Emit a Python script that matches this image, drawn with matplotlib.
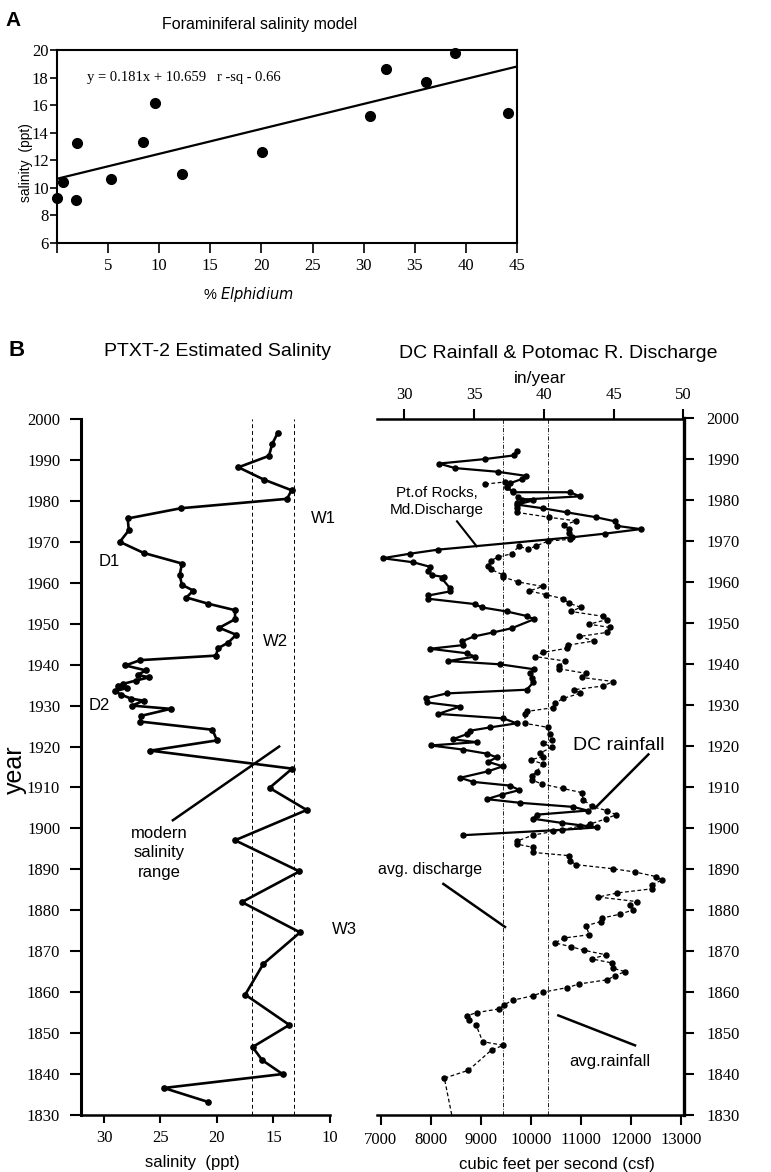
import matplotlib
matplotlib.use("Agg")
from matplotlib import pyplot as plt

SANS = ["Liberation Sans", "DejaVu Sans"]
SERIF = ["Liberation Serif", "DejaVu Serif"]
plt.rcParams["font.family"] = SANS

# ---- panel A : foraminiferal salinity model ----
elphidium = [0, 0.55, 1.96, 1.9, 5.3, 8.4, 9.6, 12.2, 20.05, 30.6, 32.2, 36.1, 38.9, 44.1]
salinity_a = [9.26, 10.39, 13.24, 9.14, 10.63, 13.31, 16.14, 10.97, 12.57, 15.22, 18.65, 17.68, 19.76, 15.41]
slope, intercept = 0.181, 10.659

# ---- panel B left : PTXT-2 estimated salinity ----
sal_year = [1996.7, 1994.0, 1991.0, 1988.2, 1985.2, 1982.6, 1980.5, 1978.2, 1975.7, 1972.8,
            1970.0, 1967.3, 1964.7, 1961.8, 1959.5, 1958.1, 1956.4, 1954.9, 1953.3, 1951.1,
            1949.0, 1947.3, 1945.4, 1944.0, 1942.2, 1941.1, 1939.8, 1938.6, 1937.5, 1936.9,
            1936.1, 1935.3, 1934.7, 1934.3, 1933.5, 1932.7, 1931.7, 1931.2, 1930.0, 1929.2,
            1927.5, 1926.1, 1924.1, 1921.5, 1919.0, 1914.6, 1909.9, 1904.5, 1897.1, 1889.5,
            1882.0, 1874.6, 1866.9, 1859.4, 1852.0, 1846.6, 1843.4, 1840.0, 1836.6, 1833.2]
sal_ppt = [14.6, 15.1, 15.4, 18.1, 15.85, 13.4, 13.8, 23.2, 27.9, 27.8,
           28.6, 26.5, 23.1, 23.3, 23.1, 22.1, 22.7, 20.8, 18.4, 18.4,
           19.8, 18.3, 19.0, 19.9, 20.1, 26.8, 28.1, 26.3, 27.0, 26.0,
           27.2, 28.3, 28.8, 28.0, 29.0, 28.5, 27.6, 26.5, 27.5, 24.1,
           26.7, 26.8, 20.4, 20.0, 25.9, 13.35, 15.35, 12.06, 18.4, 12.7,
           17.8, 12.65, 15.9, 17.5, 13.6, 16.85, 16.0, 14.2, 24.7, 20.8]
modern_range = [16.9, 13.2]

# ---- panel B right : Potomac discharge (csf) and DC rainfall (in/year) ----
dis_year = [1992.0, 1991.0, 1990.1, 1989.0, 1987.9, 1987.0, 1986.0, 1985.2, 1984.2, 1983.2,
            1982.0, 1982.0, 1981.0, 1980.2, 1980.0, 1979.0, 1978.1, 1977.1, 1975.9, 1974.9,
            1973.8, 1973.0, 1971.9, 1971.0, 1968.0, 1967.0, 1965.9, 1964.9, 1963.8, 1962.8,
            1961.8, 1961.3, 1961.0, 1958.6, 1957.8, 1956.8, 1956.0, 1954.7, 1953.9, 1952.9,
            1951.8, 1951.0, 1948.8, 1947.8, 1946.8, 1945.6, 1944.7, 1943.8, 1942.7, 1941.9,
            1940.8, 1940.0, 1938.8, 1937.8, 1936.6, 1935.6, 1933.8, 1932.9, 1931.7, 1930.7,
            1929.7, 1927.9, 1926.8, 1925.6, 1924.6, 1923.8, 1923.0, 1921.7, 1921.0, 1920.2,
            1919.2, 1918.2, 1917.3, 1916.2, 1915.1, 1913.9, 1912.3, 1911.3, 1910.4, 1909.3,
            1908.2, 1907.1, 1906.2, 1905.2, 1904.3, 1903.3, 1902.3, 1901.3, 1900.2, 1899.6,
            1898.3]
dis_csf = [9719, 9666, 9086, 8166, 8486, 9339, 9906, 9819, 9586, 9519,
           9653, 10786, 10986, 9819, 10053, 9719, 10239, 10719, 11306, 11686,
           11719, 12200, 11486, 10819, 8153, 7586, 7039, 7653, 7986, 7953,
           8019, 8266, 8219, 8386, 8386, 7953, 7953, 8886, 9019, 9519,
           9919, 10066, 9619, 9253, 8866, 8619, 8653, 7986, 8719, 8886,
           8353, 9386, 10066, 9986, 10019, 10053, 9919, 8319, 7906, 7919,
           8586, 8153, 9453, 9719, 9186, 8786, 8733, 8439, 8919, 8000,
           8640, 9120, 9320, 9150, 9440, 9150, 8586, 8853, 9586, 9773,
           9420, 9120, 9786, 10853, 11139, 10119, 10053, 10619, 11333, 10619,
           8653]
avg_discharge = 9440

rain_year = [1984.0, 1984.5, 1983.3, 1982.4, 1980.8, 1979.4, 1978.1, 1977.1, 1975.9, 1975.0,
             1974.0, 1973.0, 1972.0, 1970.5, 1970.1, 1968.9, 1968.1, 1968.8, 1967.0, 1966.2,
             1965.3, 1964.0, 1963.2, 1961.8, 1961.3, 1960.1, 1959.0, 1957.9, 1957.0, 1956.0,
             1954.9, 1953.9, 1952.9, 1951.7, 1950.9, 1949.8, 1949.0, 1947.8, 1946.8, 1945.7,
             1944.7, 1943.9, 1942.9, 1941.9, 1940.8, 1939.7, 1938.9, 1937.8, 1936.8, 1935.8,
             1934.7, 1933.8, 1932.9, 1931.7, 1930.5, 1929.4, 1928.5, 1927.9, 1925.6, 1924.6,
             1923.0, 1921.5, 1920.7, 1919.8, 1918.3, 1917.5, 1916.7, 1915.7, 1913.8, 1912.8,
             1911.8, 1910.8, 1909.7, 1908.7, 1907.0, 1905.3, 1904.3, 1903.3, 1902.3, 1901.0,
             1900.5, 1899.2, 1898.3, 1896.8, 1896.1, 1895.3, 1894.1, 1893.3, 1892.1, 1891.1,
             1890.1, 1889.3, 1888.2, 1887.3, 1886.2, 1885.2, 1884.2, 1883.2, 1882.1, 1881.2,
             1880.1, 1879.0, 1878.1, 1877.2, 1876.2, 1874.0, 1873.2, 1872.0, 1871.1, 1870.2,
             1869.1, 1868.1, 1867.1, 1865.8, 1865.0, 1864.0, 1863.0, 1862.0, 1861.1, 1860.0,
             1859.1, 1858.0, 1856.9, 1855.9, 1855.0, 1854.2, 1853.1, 1852.0, 1847.9, 1847.0,
             1845.9, 1840.9, 1839.0, 1830.0]
rain_in = [35.8, 37.2, 37.34, 37.77, 38.17, 38.05, 38.05, 38.05, 40.37, 42.31,
           41.45, 41.83, 41.83, 41.88, 40.32, 39.44, 38.89, 38.22, 37.7, 36.74,
           36.19, 36.02, 36.19, 37.1, 37.1, 38.17, 39.92, 38.96, 40.16, 41.4,
           41.83, 42.64, 41.95, 44.27, 44.51, 43.24, 44.74, 44.55, 42.55, 43.6,
           41.76, 41.64, 39.92, 39.37, 41.52, 41.11, 41.11, 43.02, 42.71, 44.98,
           44.22, 42.16, 42.59, 41.4, 40.8, 40.63, 38.77, 38.65, 38.65, 40.32,
           40.44, 40.56, 39.97, 40.56, 39.73, 39.97, 39.06, 39.92, 39.49, 39.13,
           39.13, 39.85, 41.35, 42.71, 42.83, 43.43, 44.51, 45.18, 44.46, 43.31,
           42.6, 40.64, 39.2, 38.05, 38.1, 39.25, 39.2, 41.83, 41.88, 42.31,
           44.98, 46.54, 48.04, 48.45, 47.73, 47.73, 45.27, 43.91, 46.66, 46.18,
           46.42, 45.46, 44.2, 44.08, 43.02, 43.26, 41.45, 40.8, 41.93, 42.88,
           44.46, 43.43, 44.91, 44.98, 45.82, 45.1, 44.55, 42.55, 41.69, 39.97,
           39.2, 37.77, 37.15, 36.81, 35.19, 34.47, 34.66, 35.14, 35.62, 37.1,
           36.26, 34.59, 32.87, 33.4]
avg_rainfall = 40.3

year_ticks = list(range(1830, 2001, 10))

W, H = 771, 1172
fig = plt.figure(figsize=(W / 100, H / 100), dpi=100)


def box(l, t, r, b):
    # pixel box -> figure fraction
    return [l / W, 1 - b / H, (r - l) / W, (b - t) / H]


def ftext(x, y, s, **kw):
    fig.text(x / W, 1 - y / H, s, **kw)


def serif_ticks(ax, size):
    for lab in ax.get_xticklabels() + ax.get_yticklabels():
        lab.set_fontfamily(SERIF)
        lab.set_fontsize(size)


###########
# PANEL A #
###########
axA = fig.add_axes(box(57, 50, 517, 243))
axA.plot(elphidium, salinity_a, "o", color="black", ms=7, clip_on=False, zorder=3)
axA.axline((0, intercept), slope=slope, color="black", lw=1.6)
axA.set_xlim(0, 45)
axA.set_ylim(6, 20)
axA.set_xticks(range(0, 46, 5))
axA.set_xticklabels([""] + [str(v) for v in range(5, 46, 5)])
axA.set_yticks(range(6, 21, 2))
axA.tick_params(axis="y", direction="out", length=5, width=1.2, pad=1)
axA.tick_params(axis="x", direction="out", length=7, width=1.2, pad=4)
serif_ticks(axA, 12)
for sp in axA.spines.values():
    sp.set_linewidth(1.5)
axA.text(2.9, 18.0, "y = 0.181x + 10.659   r -sq - 0.66", family=SERIF, size=10.5,
         va="center", ha="left")

ftext(13, 20, "A", size=15, weight="bold", ha="center", va="center")
ftext(260, 25, "Foraminiferal salinity model", size=11.5, ha="center", va="center")
ftext(26, 163, "salinity  (ppt)", size=10, rotation=90, ha="center", va="center")
fig.text(248 / W, 1 - 294 / H, "% $\\it{Elphidium}$", size=10.5, ha="center", va="center")

##################
# PANEL B - LEFT #
##################
axL = fig.add_axes(box(81, 419, 330, 1115))
axL.plot(sal_ppt, sal_year, "-o", color="black", lw=1.9, ms=3.8, zorder=3)
for v in modern_range:
    axL.axvline(v, color="black", lw=0.7, ls=(0, (4, 3)))
axL.set_xlim(32.03, 10)
axL.set_ylim(1830, 2000)
axL.set_xticks([30, 25, 20, 15, 10])
axL.set_yticks(year_ticks)
axL.spines["top"].set_visible(False)
axL.spines["right"].set_visible(False)
axL.spines["left"].set_linewidth(2.2)
axL.spines["bottom"].set_linewidth(1.8)
axL.tick_params(axis="y", direction="out", length=8, width=1.5, pad=7)
axL.tick_params(axis="x", direction="out", length=6, width=1.5, pad=5)
serif_ticks(axL, 12)

axL.text(10.6, 1975.8, "W1", size=12, ha="center", va="center")
axL.text(29.5, 1965.2, "D1", size=12, ha="center", va="center")
axL.text(14.8, 1945.7, "W2", size=12, ha="center", va="center")
axL.text(30.4, 1930.0, "D2", size=12, ha="center", va="center")
axL.text(8.7, 1875.3, "W3", size=12, ha="center", va="center")
axL.text(25.1, 1894.0, "modern\nsalinity\nrange", size=12, ha="center", va="center",
         linespacing=1.35)
axL.plot([23.9, 14.5], [1902, 1920], color="black", lw=1.8)

ftext(17, 350, "B", size=16, weight="bold", ha="center", va="center")
ftext(218, 352, "PTXT-2 Estimated Salinity", size=14, ha="center", va="center")
ftext(15, 770, "year", size=18, rotation=90, ha="center", va="center")
ftext(192, 1163, "salinity  (ppt)", size=12, ha="center", va="center")

###################
# PANEL B - RIGHT #
###################
axR = fig.add_axes(box(377, 418.5, 684, 1115))
axR.plot(dis_csf, dis_year, "-o", color="black", lw=1.6, ms=3.6, zorder=3)
axR.axvline(avg_discharge, color="black", lw=0.6, ls=(0, (5, 2, 1, 2)))
axR.set_xlim(6926, 13066)
axR.set_ylim(1830, 2000)
axR.set_xticks(range(7000, 13001, 1000))
axR.set_yticks(year_ticks)
axR.yaxis.tick_right()
axR.spines["left"].set_visible(False)
axR.spines["top"].set_visible(False)
axR.spines["right"].set_linewidth(2.4)
axR.spines["bottom"].set_linewidth(1.8)
axR.tick_params(axis="y", direction="out", length=7, width=1.5, pad=9)
axR.tick_params(axis="x", direction="out", length=7, width=1.5, pad=5)
serif_ticks(axR, 12)

axT = axR.twiny()
axT.plot(rain_in, rain_year, "--o", color="black", lw=0.9, ms=3.6,
         markevery=slice(0, len(rain_in) - 1), dashes=(3, 2))
axT.axvline(avg_rainfall, color="black", lw=0.6, ls=(0, (5, 2, 1, 2)))
axT.set_xlim(28.04, 50.05)
axT.set_xticks(range(30, 51, 5))
for s in ("left", "right", "bottom"):
    axT.spines[s].set_visible(False)
axT.spines["top"].set_linewidth(1.8)
axT.tick_params(axis="x", direction="out", length=7, width=1.5, pad=4)
serif_ticks(axT, 12)

axR.text(8126, 1979.7, "Pt.of Rocks,\nMd.Discharge", size=11, ha="center", va="center",
         linespacing=1.3)
axR.plot([8526, 8920], [1974.9, 1968.8], color="black", lw=1.5)
axR.text(11753, 1920.3, "DC rainfall", size=14, ha="center", va="center")
axR.plot([12353, 11286], [1918.0, 1904.9], color="black", lw=1.8)
axR.text(7986, 1889.9, "avg. discharge", size=11.5, ha="center", va="center")
axR.plot([8253, 9486], [1886.4, 1875.9], color="black", lw=1.8)
axR.text(11586, 1843.0, "avg.rainfall", size=12, ha="center", va="center")
axR.plot([10553, 12086], [1854.3, 1847.0], color="black", lw=1.8)

ftext(558, 353, "DC Rainfall & Potomac R. Discharge", size=14, ha="center", va="center")
ftext(540, 378, "in/year", size=12.5, ha="center", va="center")
ftext(557, 1164, "cubic feet per second (csf)", size=12, ha="center", va="center")

fig.savefig("out.png", dpi=100)
